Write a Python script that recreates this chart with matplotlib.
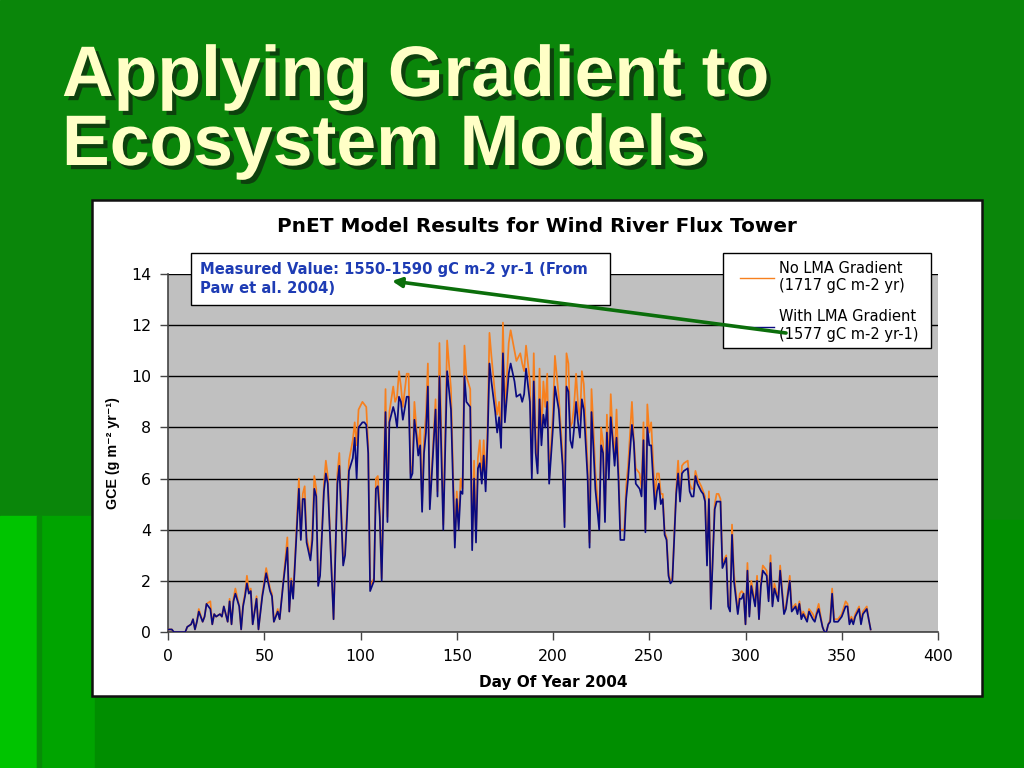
import matplotlib
matplotlib.use("Agg")
import matplotlib.pyplot as plt
from matplotlib.patches import Rectangle, FancyArrowPatch
import matplotlib.patheffects as pe

plt.rcParams['font.family'] = ['DejaVu Sans']

# ---------------- data ----------------
days = [0, 2, 3, 9, 10, 12, 13, 14, 15, 16,
        18, 19, 20, 22, 23, 24, 25, 27, 28, 29,
        31, 32, 33, 34, 35, 37, 38, 39, 40, 41,
        42, 43, 44, 46, 47, 49, 51, 53, 54, 55,
        57, 58, 60, 62, 63, 64, 65, 68, 69, 70,
        71, 72, 74, 75, 76, 77, 78, 79, 81, 82,
        83, 86, 88, 89, 91, 92, 93, 94, 96, 97,
        98, 99, 101, 102, 103, 104, 105, 107, 108, 109,
        110, 111, 113, 114, 115, 117, 118, 119, 120, 121,
        122, 124, 125, 126, 127, 128, 129, 130, 131, 132,
        133, 134, 135, 136, 139, 140, 141, 143, 145, 147,
        149, 150, 151, 152, 153, 154, 155, 157, 158, 159,
        160, 161, 162, 163, 164, 165, 166, 167, 168, 170,
        171, 172, 173, 174, 175, 177, 178, 180, 181, 183,
        184, 185, 186, 188, 189, 190, 191, 192, 193, 194,
        195, 196, 197, 198, 200, 201, 203, 205, 206, 207,
        208, 209, 210, 211, 212, 213, 214, 215, 216, 218,
        219, 220, 221, 222, 224, 225, 226, 227, 228, 229,
        230, 231, 232, 233, 234, 235, 237, 238, 239, 241,
        242, 243, 245, 246, 247, 248, 249, 250, 251, 252,
        253, 254, 255, 256, 257, 258, 259, 260, 261, 262,
        264, 265, 266, 267, 268, 270, 271, 272, 273, 274,
        275, 277, 278, 279, 280, 281, 282, 284, 285, 286,
        287, 288, 290, 291, 292, 293, 294, 296, 297, 298,
        299, 300, 301, 302, 303, 305, 306, 307, 308, 309,
        311, 312, 313, 314, 315, 317, 318, 320, 321, 323,
        324, 326, 327, 328, 329, 330, 332, 333, 335, 336,
        337, 338, 340, 341, 342, 343, 344, 345, 346, 348,
        350, 352, 353, 354, 355, 356, 357, 359, 360, 361,
        363, 364, 365]

with_lma = [0.1, 0.1, 0.0, 0.0, 0.2, 0.3, 0.5, 0.1, 0.4, 0.8,
            0.4, 0.6, 1.1, 0.9, 0.3, 0.7, 0.6, 0.7, 0.6, 1.0,
            0.4, 1.2, 0.3, 1.2, 1.5, 1.0, 0.1, 1.0, 1.4, 1.9,
            1.5, 1.6, 0.3, 1.3, 0.1, 1.4, 2.3, 1.6, 1.4, 0.4,
            0.8, 0.5, 2.0, 3.3, 0.8, 2.0, 1.3, 5.6, 3.6, 5.2,
            5.2, 3.5, 2.8, 3.6, 5.6, 5.3, 1.8, 2.2, 5.5, 6.2,
            5.8, 0.5, 5.8, 6.5, 2.6, 3.0, 4.5, 6.3, 6.8, 7.6,
            6.0, 8.0, 8.2, 8.2, 8.1, 7.0, 1.6, 2.0, 5.6, 5.7,
            4.5, 2.0, 8.6, 4.3, 8.2, 8.8, 8.5, 8.0, 9.2, 9.0,
            8.3, 9.2, 9.2, 6.0, 6.2, 8.3, 7.7, 6.9, 7.3, 4.7,
            7.0, 7.8, 9.6, 4.8, 8.7, 5.3, 10.0, 4.0, 10.2, 8.7,
            3.3, 5.2, 4.0, 5.5, 5.4, 10.0, 9.0, 8.8, 3.2, 6.0,
            3.5, 6.4, 6.6, 5.8, 6.9, 5.5, 7.5, 10.5, 9.8, 8.6,
            7.8, 8.4, 7.2, 10.9, 8.2, 10.1, 10.5, 9.8, 9.2, 9.3,
            9.0, 9.3, 10.3, 9.0, 6.0, 9.8, 7.0, 6.2, 9.1, 7.3,
            8.5, 8.0, 9.0, 5.8, 8.0, 9.6, 8.7, 6.5, 4.1, 9.6,
            9.4, 7.5, 7.2, 8.0, 9.0, 8.2, 7.6, 9.1, 8.7, 6.0,
            3.3, 8.6, 7.2, 5.6, 4.0, 7.3, 7.0, 4.3, 7.8, 6.0,
            8.4, 7.5, 6.5, 7.6, 6.0, 3.6, 3.6, 5.2, 6.0, 8.1,
            7.4, 5.8, 5.6, 5.3, 7.5, 3.9, 8.0, 7.3, 7.3, 6.0,
            4.8, 5.5, 5.8, 5.0, 5.2, 3.8, 3.6, 2.2, 1.9, 2.0,
            5.4, 6.2, 5.1, 6.2, 6.3, 6.4, 5.5, 5.3, 5.3, 6.1,
            5.8, 5.5, 5.4, 5.1, 2.6, 5.2, 0.9, 4.8, 5.1, 5.1,
            5.1, 2.5, 2.9, 1.0, 0.8, 3.8, 2.0, 0.7, 1.3, 1.3,
            1.5, 0.3, 2.4, 0.6, 1.8, 1.0, 2.0, 0.5, 1.8, 2.4,
            2.2, 1.2, 2.7, 1.0, 1.7, 1.2, 2.4, 0.7, 0.9, 2.0,
            0.8, 1.0, 0.7, 1.1, 0.5, 0.7, 0.4, 0.8, 0.5, 0.4,
            0.7, 0.9, 0.2, 0.0, 0.0, 0.3, 0.4, 1.5, 0.4, 0.4,
            0.6, 1.0, 1.0, 0.3, 0.5, 0.3, 0.6, 0.9, 0.3, 0.7,
            0.9, 0.5, 0.1]

no_lma = [0.1, 0.1, 0.0, 0.0, 0.2, 0.3, 0.5, 0.1, 0.4, 0.9,
          0.4, 0.6, 1.1, 1.2, 0.3, 0.7, 0.6, 0.7, 0.6, 1.0,
          0.4, 1.3, 0.3, 1.3, 1.7, 1.0, 0.1, 1.1, 1.5, 2.2,
          1.6, 1.7, 0.3, 1.4, 0.1, 1.5, 2.5, 1.7, 1.5, 0.4,
          0.9, 0.5, 2.1, 3.7, 0.8, 2.1, 1.4, 6.0, 3.7, 5.4,
          5.7, 3.7, 3.0, 4.0, 6.1, 5.6, 1.9, 2.3, 5.8, 6.7,
          6.1, 0.5, 6.2, 7.0, 2.7, 3.2, 4.8, 6.7, 7.5, 8.2,
          7.3, 8.7, 9.0, 8.9, 8.8, 7.3, 1.8, 2.1, 6.0, 6.1,
          4.8, 2.1, 9.5, 4.5, 8.6, 9.6, 9.0, 9.2, 10.2, 9.6,
          8.8, 10.1, 10.1, 6.2, 6.5, 9.0, 8.0, 7.2, 8.0, 5.0,
          7.5, 8.5, 10.5, 5.0, 9.1, 5.5, 11.3, 4.2, 11.4, 9.5,
          3.6, 5.5, 4.3, 6.0, 5.6, 11.2, 10.0, 9.5, 3.5, 6.7,
          3.8, 6.8, 7.5, 6.1, 7.5, 5.8, 8.0, 11.7, 10.8, 9.2,
          8.5, 9.0, 7.5, 12.1, 8.6, 11.3, 11.8, 11.0, 10.6, 10.9,
          10.5, 10.2, 11.2, 9.8, 6.2, 10.9, 7.6, 6.5, 10.3, 7.6,
          9.8, 8.8, 10.1, 6.0, 8.6, 10.8, 9.2, 6.9, 4.3, 10.9,
          10.5, 8.0, 8.2, 8.9, 10.1, 8.9, 8.3, 10.2, 9.7, 6.5,
          3.5, 9.5, 8.0, 6.3, 4.3, 8.0, 7.4, 4.5, 8.5, 6.3,
          9.3, 7.8, 6.8, 8.7, 6.5, 4.0, 4.0, 5.7, 6.5, 9.0,
          7.5, 6.4, 6.2, 5.6, 8.2, 4.0, 8.9, 7.8, 8.2, 6.7,
          5.2, 6.2, 6.2, 5.4, 5.4, 3.9, 3.7, 2.3, 2.0, 2.1,
          5.6, 6.7, 5.3, 6.5, 6.6, 6.7, 5.8, 5.6, 5.6, 6.3,
          6.0, 5.7, 5.5, 5.3, 2.8, 5.5, 1.0, 5.0, 5.4, 5.4,
          5.2, 2.7, 3.0, 1.1, 1.0, 4.2, 2.3, 0.8, 1.5, 1.6,
          1.5, 0.3, 2.7, 0.7, 2.0, 1.1, 2.2, 0.5, 2.0, 2.6,
          2.4, 1.3, 3.0, 1.1, 1.9, 1.3, 2.6, 0.8, 1.0, 2.2,
          0.9, 1.1, 0.8, 1.2, 0.6, 0.8, 0.5, 0.9, 0.7, 0.5,
          0.8, 1.1, 0.2, 0.0, 0.0, 0.3, 0.5, 1.7, 0.5, 0.5,
          0.7, 1.2, 1.1, 0.4, 0.6, 0.4, 0.7, 1.0, 0.4, 0.8,
          1.0, 0.5, 0.1]

x_ticks = [0, 50, 100, 150, 200, 250, 300, 350, 400]
y_ticks = [0, 2, 4, 6, 8, 10, 12, 14]
legend_labels = ["No LMA Gradient\n(1717 gC m-2 yr)",
                 "With LMA Gradient\n(1577 gC m-2 yr-1)"]
slide_title = ["Applying Gradient to", "Ecosystem Models"]
chart_title = "PnET Model Results for Wind River Flux Tower"
note_text = "Measured Value: 1550-1590 gC m-2 yr-1 (From\nPaw et al. 2004)"

W, H = 1024, 768
fig = plt.figure(figsize=(W / 100, H / 100), dpi=100)

# ---------------- slide background (pixel coordinates) ----------------
bg = fig.add_axes([0, 0, 1, 1], zorder=0)
bg.set_xlim(0, W)
bg.set_ylim(H, 0)
bg.axis('off')
bg.add_patch(Rectangle((0, 0), W, H, color='#0A860A'))
bg.add_patch(Rectangle((0, 516), 37, H - 516, color='#00C400'))
bg.add_patch(Rectangle((37, 516), 58, H - 516, color='#00A400'))
bg.add_patch(Rectangle((37, 516), 4, H - 516, color='#078C07'))
bg.add_patch(Rectangle((95, 520), W - 95, H - 520, color='#008E00'))
# white chart area
bg.add_patch(Rectangle((92, 200), 890, 496, facecolor='white',
                       edgecolor='#111111', lw=1.8))

shadow = [pe.withSimplePatchShadow(offset=(3, -3), shadow_rgbFace='#0E3A0E', alpha=0.9)]
bg.text(62, 96, slide_title[0], fontsize=51.5, fontweight='bold',
        family='Liberation Sans', color='#FFFFC6', va='baseline', ha='left',
        path_effects=shadow)
bg.text(62, 165, slide_title[1], fontsize=51.5, fontweight='bold',
        family='Liberation Sans', color='#FFFFC6', va='baseline', ha='left',
        path_effects=shadow)
bg.text(537, 227, chart_title, fontsize=14.4, fontweight='bold',
        ha='center', va='center', color='black')

# ---------------- chart ----------------
ax = fig.add_axes([168 / W, 1 - 632 / H, 770 / W, 358 / H], zorder=1)
ax.set_facecolor('#C0C0C0')
ax.plot(days, no_lma, color='#F7801E', lw=1.25, label=legend_labels[0], zorder=3)
ax.plot(days, with_lma, color='#0A0A80', lw=1.25, label=legend_labels[1], zorder=4)
ax.set_xlim(0, 400)
ax.set_ylim(0, 14)
ax.set_xticks(x_ticks)
ax.set_yticks(y_ticks)
ax.yaxis.grid(True, color='black', lw=1.0)
ax.set_axisbelow(True)
for s in ['top', 'right']:
    ax.spines[s].set_visible(False)
for s in ['left', 'bottom']:
    ax.spines[s].set_color('#444444')
    ax.spines[s].set_linewidth(1.2)
ax.tick_params(direction='out', length=6, width=1, color='#444444',
               labelsize=11.3, pad=6)
ax.set_xlabel("Day Of Year 2004", fontsize=11, fontweight='bold', labelpad=8)
ax.set_ylabel("GCE (g m\u207b\u00b2 yr\u207b\u00b9)", fontsize=10.3,
              family=['Liberation Sans', 'DejaVu Sans'],
              fontweight='bold', labelpad=8)

# ---------------- overlay: note box, legend frame and arrow ----------------
ov = fig.add_axes([0, 0, 1, 1], zorder=5)
ov.set_xlim(0, W)
ov.set_ylim(H, 0)
ov.axis('off')
ov.patch.set_alpha(0)

# legend frame (pixel box) drawn on the chart axes, legend on top of it
ax.add_patch(Rectangle((723, 253), 208, 95, transform=ov.transData,
                       facecolor='white', edgecolor='black', lw=1.0,
                       clip_on=False, zorder=6))
leg = ax.legend(loc='upper left', bbox_to_anchor=(740 / W, 1 - 261 / H),
                bbox_transform=fig.transFigure, borderaxespad=0,
                fontsize=10.5, frameon=False, handlelength=2.3,
                handletextpad=0.35, labelspacing=1.1, borderpad=0)
leg.set_zorder(7)
for line in leg.get_lines():
    line.set_linewidth(1.0)

ov.add_patch(Rectangle((191, 253), 419, 52, facecolor='white',
                       edgecolor='black', lw=1.0))
ov.text(200, 279, note_text, fontsize=10.6, fontweight='bold', color='#1E3CB4',
        ha='left', va='center', linespacing=1.35)
ov.add_patch(FancyArrowPatch((786, 333), (392, 281), arrowstyle='-|>',
                             mutation_scale=14, color='#0B6E0B', lw=2.6,
                             shrinkA=0, shrinkB=0))

fig.savefig("out.png", dpi=100)
